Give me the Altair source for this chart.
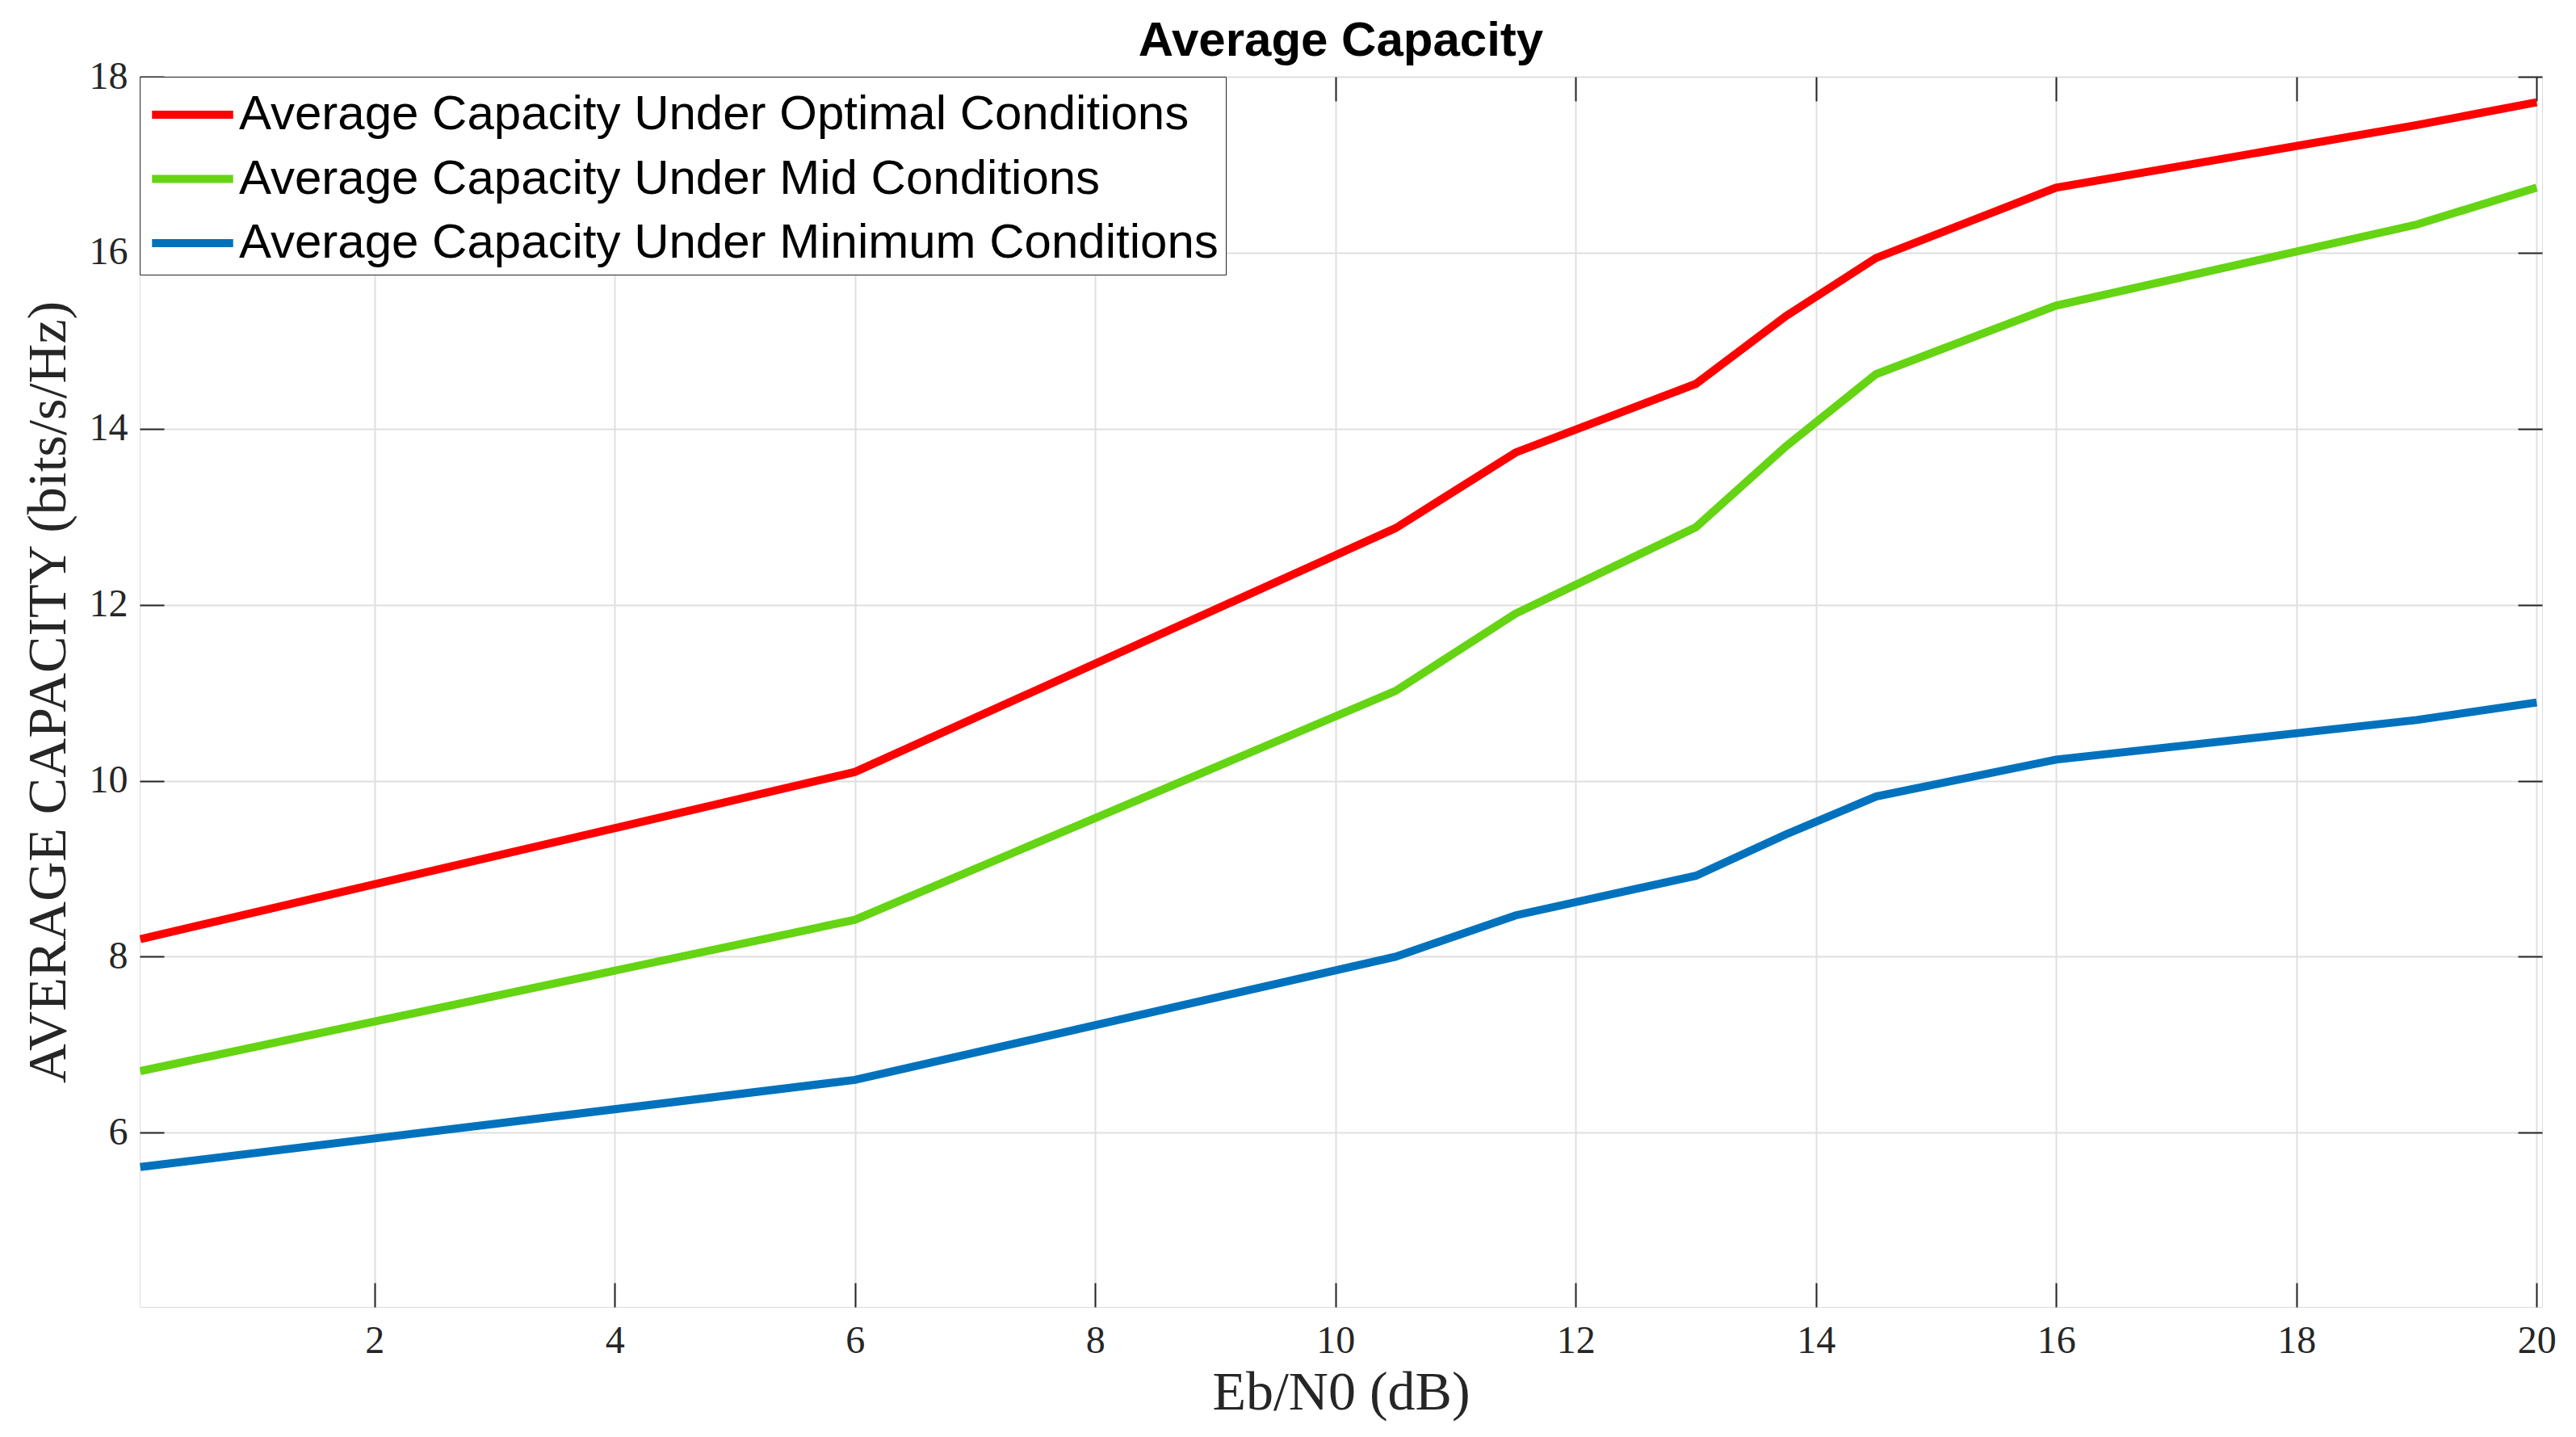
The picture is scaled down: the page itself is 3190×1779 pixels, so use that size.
import altair as alt
import pandas as pd

# ---- data ----
ebn0_db = [0.05, 6, 10.5, 11.5, 13, 13.75, 14.5, 16, 19, 20]
cap_optimal = [8.20, 10.10, 12.87, 13.73, 14.51, 15.28, 15.94, 16.74, 17.45, 17.71]
cap_mid = [6.70, 8.42, 11.02, 11.90, 12.88, 13.80, 14.62, 15.40, 16.32, 16.74]
cap_minimum = [5.61, 6.60, 8.00, 8.47, 8.92, 9.39, 9.82, 10.24, 10.69, 10.89]

series_names = [
    "Average Capacity Under Optimal Conditions",
    "Average Capacity Under Mid Conditions",
    "Average Capacity Under Minimum Conditions",
]
series_colors = ["#FF0000", "#64D413", "#0072BD"]

x_tick_values = [2, 4, 6, 8, 10, 12, 14, 16, 18, 20]
y_tick_values = [6, 8, 10, 12, 14, 16, 18]

rows = []
for name, vals in zip(series_names, [cap_optimal, cap_mid, cap_minimum]):
    for i, (xv, yv) in enumerate(zip(ebn0_db, vals)):
        rows.append({"series": name, "ebn0": xv, "cap": yv, "order": i})
df = pd.DataFrame(rows)

AX = "#262626"
SERIF = "Liberation Serif"
SANS = "Liberation Sans"

x_scale = alt.Scale(domain=[0.045, 20.045], nice=False, zero=False)
y_scale = alt.Scale(domain=[4.02, 18.0], nice=False, zero=False)

main_x_axis = alt.Axis(
    values=x_tick_values, title="Eb/N0 (dB)", grid=True, gridColor="#DFDFDF",
    gridWidth=2, ticks=False, tickSize=0, domain=False,
    labelFont=SERIF, labelFontSize=48, labelColor=AX, labelPadding=18,
    labelFlush=False, labelOverlap=False,
    titleFont=SERIF, titleFontSize=68, titleFontWeight="normal", titleColor=AX,
    titleY=126, titleBaseline="alphabetic",
)
main_y_axis = alt.Axis(
    values=y_tick_values, title="AVERAGE CAPACITY (bits/s/Hz)", grid=True,
    gridColor="#DFDFDF", gridWidth=2, ticks=False, tickSize=0, domain=False,
    labelFont=SERIF, labelFontSize=48, labelColor=AX, labelPadding=15,
    labelFlush=False, labelOverlap=False,
    titleFont=SERIF, titleFontSize=68, titleFontWeight="normal", titleColor=AX,
    titleX=-93, titleBaseline="alphabetic",
)


def tick_axis(orient, vals):
    return alt.Axis(
        orient=orient, values=vals, labels=False, domain=False, grid=False,
        ticks=True, tickSize=30, tickWidth=2, tickColor=AX, offset=-30, title=None,
    )


lines = alt.Chart(df).mark_line(strokeWidth=10, clip=True).encode(
    x=alt.X("ebn0:Q", scale=x_scale, axis=main_x_axis),
    y=alt.Y("cap:Q", scale=y_scale, axis=main_y_axis),
    color=alt.Color(
        "series:N",
        scale=alt.Scale(domain=series_names, range=series_colors),
        legend=alt.Legend(
            title=None, orient="top-left", offset=0, padding=8.5,
            fillColor="white", strokeColor=AX,
            symbolType="M-1.5,0L1.5,0", symbolSize=4489, symbolStrokeWidth=10,
            symbolOffset=18.5, labelOffset=19, rowPadding=10.5,
            labelFont=SANS, labelFontSize=60, labelColor="black", labelLimit=3000,
        ),
    ),
    order="order:Q",
)

ticks_bl = alt.Chart(df).mark_point(opacity=0).encode(
    x=alt.X("ebn0:Q", scale=x_scale, axis=tick_axis("bottom", x_tick_values)),
    y=alt.Y("cap:Q", scale=y_scale, axis=tick_axis("left", y_tick_values)),
)
ticks_tr = alt.Chart(df).mark_point(opacity=0).encode(
    x=alt.X("ebn0:Q", scale=x_scale, axis=tick_axis("top", x_tick_values)),
    y=alt.Y("cap:Q", scale=y_scale, axis=tick_axis("right", y_tick_values)),
)

chart = (
    alt.layer(lines, ticks_bl, ticks_tr)
    .resolve_axis(x="independent", y="independent")
    .properties(
        width=2975, height=1523,
        padding={"left": 165, "top": 87, "right": 30, "bottom": 150},
        autosize=alt.AutoSizeParams(type="none"),
        title=alt.TitleParams(
            text="Average Capacity", font=SANS, fontSize=60, fontWeight="bold",
            color="black", anchor="middle", offset=-11,
        ),
    )
    .configure_view(stroke=AX, strokeWidth=2.5)
    .configure(background="white")
)

chart.save("out.html", embed_options={"renderer": "svg", "actions": False})
